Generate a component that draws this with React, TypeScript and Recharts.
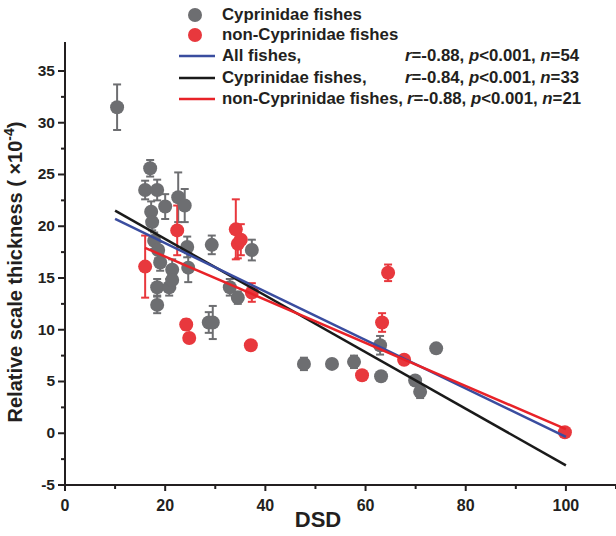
import { ScatterChart, Scatter, XAxis, YAxis, ErrorBar } from "recharts";

// Cyprinidae fishes (grey)
const cypDsd = [10.4, 17.0, 16.0, 18.4, 17.2, 20.0, 22.6, 23.9, 17.4, 17.8, 18.6, 24.4, 19.0, 21.4, 24.6, 18.4, 20.8, 18.4, 29.3, 32.9, 34.5, 28.7, 29.5, 37.3, 47.7, 53.3, 57.7, 62.9, 63.1, 74.1, 69.9, 70.9, 21.4];
const cypThick = [31.5, 25.6, 23.5, 23.5, 21.4, 21.9, 22.8, 22.0, 20.4, 18.6, 17.7, 18.0, 16.5, 15.8, 16.0, 14.1, 14.1, 12.4, 18.2, 14.1, 13.1, 10.7, 10.7, 17.7, 6.7, 6.7, 6.9, 8.5, 5.5, 8.2, 5.1, 4.0, 14.8];
const cypErr = [2.2, 0.8, 0.9, 1.0, 1.0, 1.2, 2.4, 1.6, 0.8, 0.8, 0.8, 1.0, 0.8, 1.0, 1.4, 0.8, 0.8, 0.8, 0.9, 0.8, 0.6, 1.0, 1.6, 1.0, 0.6, 0, 0.6, 0.9, 0, 0, 0, 0.6, 0.8];

// non-Cyprinidae fishes (red)
const nonDsd = [16.0, 22.4, 24.2, 24.8, 34.1, 34.5, 35.1, 37.3, 37.1, 59.3, 63.3, 64.5, 67.7, 99.8];
const nonThick = [16.1, 19.6, 10.5, 9.2, 19.7, 18.3, 18.7, 13.6, 8.5, 5.6, 10.7, 15.5, 7.1, 0.1];
const nonErr = [3.0, 2.4, 0.5, 0.3, 2.9, 1.4, 1.5, 0.9, 0.4, 0, 0.9, 0.8, 0.3, 0.2];

// regression lines
const allFitDsd = [10, 100];
const allFitThick = [20.7, -0.35];
const cypFitDsd = [10, 100];
const cypFitThick = [21.5, -3.1];
const nonFitDsd = [16, 100];
const nonFitThick = [17.9, 0.4];

const xTicks = [0, 10, 20, 30, 40, 50, 60, 70, 80, 90, 100, 110];
const yTicks = [-5, -2.5, 0, 2.5, 5, 7.5, 10, 12.5, 15, 17.5, 20, 22.5, 25, 27.5, 30, 32.5, 35];

const zip = (xs: number[], ys: number[], es?: number[]) =>
  xs.map((x, i) => ({ x, y: ys[i], err: es ? es[i] : 0 }));

const cypData = zip(cypDsd, cypThick, cypErr);
const nonData = zip(nonDsd, nonThick, nonErr);

const GREY = "#6d6e71";
const RED = "#e8383d";
const BLUE = "#3a4d9f";
const BLACK = "#1a1a1a";
const LRED = "#e82228";
const AXIS = "#231f20";
const FONT = '"Liberation Sans", Arial, sans-serif';

const dot = (color: string) => (p: any) => <circle cx={p.cx} cy={p.cy} r={7} fill={color} />;
const noDot = () => <g />;

const XTick = (props: any) => {
  const { x, y, payload } = props;
  const major = payload.value % 20 === 0;
  return (
    <g>
      <line x1={x} x2={x} y1={y} y2={y + (major ? 6 : 4)} stroke={AXIS} strokeWidth={2} />
      {major && (
        <text x={x} y={y + 26} textAnchor="middle" fontFamily={FONT} fontWeight="bold" fontSize={16} fill={AXIS}>
          {payload.value}
        </text>
      )}
    </g>
  );
};

const YTick = (props: any) => {
  const { x, y, payload } = props;
  const major = payload.value % 5 === 0;
  return (
    <g>
      <line x1={x - (major ? 7 : 4)} x2={x} y1={y} y2={y} stroke={AXIS} strokeWidth={2} />
      {major && (
        <text x={x - 10} y={y + 5} textAnchor="end" fontFamily={FONT} fontWeight="bold" fontSize={15.5} fill={AXIS}>
          {payload.value}
        </text>
      )}
    </g>
  );
};

const Stats = ({ r, n }: { r: string; n: number }) => (
  <span>
    <i>r</i>={r}, <i>p</i>&lt;0.001, <i>n</i>={n}
  </span>
);

const textStyle = (top: number, left: number): React.CSSProperties => ({
  position: "absolute",
  top,
  left,
  fontSize: 16.8,
  lineHeight: "18px",
  fontWeight: "bold",
  color: AXIS,
  whiteSpace: "nowrap",
});

export default function App() {
  return (
    <div style={{ position: "absolute", left: 0, top: 0, width: 616, height: 536, background: "#fff", fontFamily: FONT }}>
      <ScatterChart width={616} height={536} margin={{ top: 42, right: 0, bottom: 0, left: 0 }}>
        <XAxis
          type="number"
          dataKey="x"
          domain={[0, 110]}
          ticks={xTicks}
          interval={0}
          allowDataOverflow
          height={51}
          tickSize={0}
          tickMargin={0}
          tickLine={false}
          tick={<XTick />}
          axisLine={{ stroke: AXIS, strokeWidth: 2 }}
          label={{
            content: () => (
              <text x={318} y={527} textAnchor="middle" fontFamily={FONT} fontWeight="bold" fontSize={22} fill={AXIS}>
                DSD
              </text>
            ),
          }}
        />
        <YAxis
          type="number"
          dataKey="y"
          domain={[-5, 37.8]}
          ticks={yTicks}
          interval={0}
          allowDataOverflow
          width={65}
          tickSize={0}
          tickMargin={0}
          tickLine={false}
          tick={<YTick />}
          axisLine={{ stroke: AXIS, strokeWidth: 2 }}
          label={{
            content: () => (
              <text
                x={22}
                y={272}
                transform="rotate(-90 22 272)"
                textAnchor="middle"
                fontFamily={FONT}
                fontWeight="bold"
                fontSize={20}
                fill={AXIS}
              >
                Relative scale thickness ( ×10
                <tspan dy={-8} fontSize={14}>-4</tspan>
                <tspan dy={8}>)</tspan>
              </text>
            ),
          }}
        />
        <Scatter data={cypData} shape={dot(GREY)} isAnimationActive={false}>
          <ErrorBar dataKey="err" direction="y" width={4} strokeWidth={2} stroke={GREY} />
        </Scatter>
        <Scatter data={nonData} shape={dot(RED)} isAnimationActive={false}>
          <ErrorBar dataKey="err" direction="y" width={4} strokeWidth={2} stroke={RED} />
        </Scatter>
        <Scatter data={zip(cypFitDsd, cypFitThick)} shape={noDot} line={{ stroke: BLACK, strokeWidth: 2.5 }} isAnimationActive={false} />
        <Scatter data={zip(allFitDsd, allFitThick)} shape={noDot} line={{ stroke: BLUE, strokeWidth: 2.5 }} isAnimationActive={false} />
        <Scatter data={zip(nonFitDsd, nonFitThick)} shape={noDot} line={{ stroke: LRED, strokeWidth: 2.5 }} isAnimationActive={false} />
      </ScatterChart>

      {/* legend */}
      <svg style={{ position: "absolute", left: 0, top: 0 }} width={616} height={110}>
        <circle cx={195} cy={15} r={7} fill={GREY} />
        <circle cx={195} cy={35} r={7} fill={RED} />
        <line x1={179} x2={215} y1={56} y2={56} stroke={BLUE} strokeWidth={2.5} />
        <line x1={179} x2={215} y1={78} y2={78} stroke={BLACK} strokeWidth={2.5} />
        <line x1={179} x2={215} y1={99} y2={99} stroke={LRED} strokeWidth={2.5} />
      </svg>
      <div style={textStyle(6, 222)}>Cyprinidae fishes</div>
      <div style={textStyle(26, 222)}>non-Cyprinidae fishes</div>
      <div style={textStyle(47, 222)}>All fishes,</div>
      <div style={textStyle(47, 405)}><Stats r="-0.88" n={54} /></div>
      <div style={textStyle(69, 222)}>Cyprinidae fishes,</div>
      <div style={textStyle(69, 405)}><Stats r="-0.84" n={33} /></div>
      <div style={textStyle(90, 222)}>non-Cyprinidae fishes,</div>
      <div style={textStyle(90, 407)}><Stats r="-0.88" n={21} /></div>
    </div>
  );
}
